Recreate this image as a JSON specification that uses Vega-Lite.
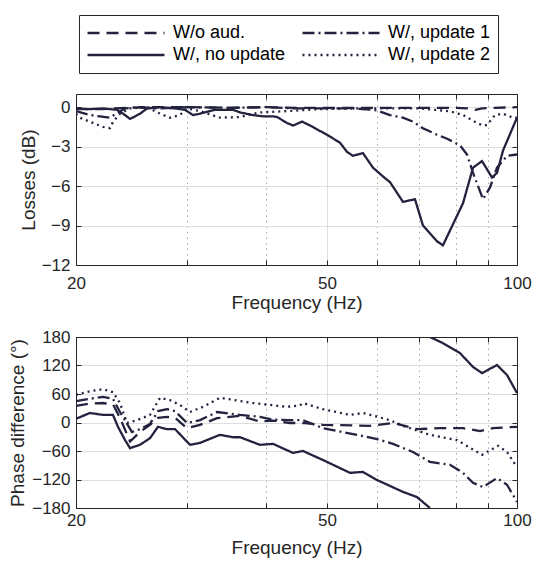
{
  "$schema": "https://vega.github.io/schema/vega-lite/v6.json",
  "padding": {"left": 8, "top": 14, "right": 4, "bottom": 4},
  "background": "white",
  "config": {
    "view": {"stroke": null},
    "axis": {
      "domainColor": "#262626", "tickColor": "#262626", "domainWidth": 1, "tickWidth": 1,
      "labelFont": "Liberation Sans", "titleFont": "Liberation Sans",
      "labelFontSize": 17, "titleFontSize": 19, "titleFontWeight": "normal",
      "labelColor": "#262626", "titleColor": "#262626", "labelFlush": false
    },
    "line": {"strokeWidth": 2.3, "color": "#23233f", "clip": true}
  },
  "datasets": {
    "d": [
      {"p":"loss","s":"W/o aud.","g":1,"f":20,"v":-0.1},{"p":"loss","s":"W/o aud.","g":1,"f":21,"v":-0.15},{"p":"loss","s":"W/o aud.","g":1,"f":22,"v":-0.15},{"p":"loss","s":"W/o aud.","g":1,"f":23,"v":-0.1},{"p":"loss","s":"W/o aud.","g":1,"f":24,"v":-0.05},{"p":"loss","s":"W/o aud.","g":1,"f":26,"v":0},{"p":"loss","s":"W/o aud.","g":1,"f":30,"v":0},{"p":"loss","s":"W/o aud.","g":1,"f":35,"v":-0.05},{"p":"loss","s":"W/o aud.","g":1,"f":40,"v":0},{"p":"loss","s":"W/o aud.","g":1,"f":45,"v":-0.05},{"p":"loss","s":"W/o aud.","g":1,"f":50,"v":-0.05},{"p":"loss","s":"W/o aud.","g":1,"f":60,"v":-0.05},{"p":"loss","s":"W/o aud.","g":1,"f":70,"v":-0.05},{"p":"loss","s":"W/o aud.","g":1,"f":80,"v":-0.05},{"p":"loss","s":"W/o aud.","g":1,"f":84,"v":-0.1},{"p":"loss","s":"W/o aud.","g":1,"f":86,"v":-0.2},{"p":"loss","s":"W/o aud.","g":1,"f":88,"v":-0.1},{"p":"loss","s":"W/o aud.","g":1,"f":92,"v":-0.05},{"p":"loss","s":"W/o aud.","g":1,"f":100,"v":0},

      {"p":"loss","s":"W/, no update","g":1,"f":20,"v":-0.15},{"p":"loss","s":"W/, no update","g":1,"f":21.05,"v":-0.15},{"p":"loss","s":"W/, no update","g":1,"f":22.07,"v":-0.1},{"p":"loss","s":"W/, no update","g":1,"f":23.23,"v":-0.2},{"p":"loss","s":"W/, no update","g":1,"f":23.92,"v":-0.6},{"p":"loss","s":"W/, no update","g":1,"f":24.36,"v":-0.9},{"p":"loss","s":"W/, no update","g":1,"f":25.26,"v":-0.5},{"p":"loss","s":"W/, no update","g":1,"f":25.92,"v":-0.1},{"p":"loss","s":"W/, no update","g":1,"f":27.2,"v":0},{"p":"loss","s":"W/, no update","g":1,"f":28.7,"v":-0.1},{"p":"loss","s":"W/, no update","g":1,"f":29.77,"v":-0.2},{"p":"loss","s":"W/, no update","g":1,"f":30.65,"v":-0.6},{"p":"loss","s":"W/, no update","g":1,"f":31.45,"v":-0.5},{"p":"loss","s":"W/, no update","g":1,"f":33.2,"v":-0.2},{"p":"loss","s":"W/, no update","g":1,"f":35.47,"v":-0.2},{"p":"loss","s":"W/, no update","g":1,"f":36.39,"v":-0.4},{"p":"loss","s":"W/, no update","g":1,"f":38.15,"v":-0.6},{"p":"loss","s":"W/, no update","g":1,"f":39.57,"v":-0.7},{"p":"loss","s":"W/, no update","g":1,"f":41.05,"v":-0.7},{"p":"loss","s":"W/, no update","g":1,"f":41.65,"v":-0.75},{"p":"loss","s":"W/, no update","g":1,"f":43.2,"v":-1.2},{"p":"loss","s":"W/, no update","g":1,"f":44.15,"v":-1.4},{"p":"loss","s":"W/, no update","g":1,"f":45.63,"v":-1.1},{"p":"loss","s":"W/, no update","g":1,"f":47,"v":-1.4},{"p":"loss","s":"W/, no update","g":1,"f":49.98,"v":-2.1},{"p":"loss","s":"W/, no update","g":1,"f":52.41,"v":-2.7},{"p":"loss","s":"W/, no update","g":1,"f":53.77,"v":-3.4},{"p":"loss","s":"W/, no update","g":1,"f":54.96,"v":-3.7},{"p":"loss","s":"W/, no update","g":1,"f":57,"v":-3.5},{"p":"loss","s":"W/, no update","g":1,"f":59.12,"v":-4.6},{"p":"loss","s":"W/, no update","g":1,"f":61.77,"v":-5.4},{"p":"loss","s":"W/, no update","g":1,"f":62.91,"v":-5.7},{"p":"loss","s":"W/, no update","g":1,"f":65.95,"v":-7.2},{"p":"loss","s":"W/, no update","g":1,"f":68.91,"v":-7.0},{"p":"loss","s":"W/, no update","g":1,"f":70.95,"v":-9.0},{"p":"loss","s":"W/, no update","g":1,"f":72.79,"v":-9.6},{"p":"loss","s":"W/, no update","g":1,"f":74.68,"v":-10.2},{"p":"loss","s":"W/, no update","g":1,"f":76.33,"v":-10.5},{"p":"loss","s":"W/, no update","g":1,"f":79.17,"v":-8.9},{"p":"loss","s":"W/, no update","g":1,"f":82.12,"v":-7.3},{"p":"loss","s":"W/, no update","g":1,"f":85.17,"v":-4.6},{"p":"loss","s":"W/, no update","g":1,"f":88.02,"v":-4.1},{"p":"loss","s":"W/, no update","g":1,"f":91.28,"v":-5.35},{"p":"loss","s":"W/, no update","g":1,"f":92.96,"v":-5.0},{"p":"loss","s":"W/, no update","g":1,"f":95.02,"v":-3.3},{"p":"loss","s":"W/, no update","g":1,"f":100,"v":-0.8},

      {"p":"loss","s":"W/, update 1","g":1,"f":20,"v":-0.3},{"p":"loss","s":"W/, update 1","g":1,"f":21.05,"v":-0.6},{"p":"loss","s":"W/, update 1","g":1,"f":21.83,"v":-0.7},{"p":"loss","s":"W/, update 1","g":1,"f":22.64,"v":-0.8},{"p":"loss","s":"W/, update 1","g":1,"f":23.31,"v":-0.4},{"p":"loss","s":"W/, update 1","g":1,"f":23.92,"v":-0.1},{"p":"loss","s":"W/, update 1","g":1,"f":25,"v":0},{"p":"loss","s":"W/, update 1","g":1,"f":27,"v":-0.1},{"p":"loss","s":"W/, update 1","g":1,"f":30,"v":0},{"p":"loss","s":"W/, update 1","g":1,"f":35,"v":-0.05},{"p":"loss","s":"W/, update 1","g":1,"f":40,"v":0},{"p":"loss","s":"W/, update 1","g":1,"f":45,"v":-0.1},{"p":"loss","s":"W/, update 1","g":1,"f":50,"v":-0.1},{"p":"loss","s":"W/, update 1","g":1,"f":55,"v":-0.1},{"p":"loss","s":"W/, update 1","g":1,"f":59.12,"v":-0.2},{"p":"loss","s":"W/, update 1","g":1,"f":60,"v":-0.25},{"p":"loss","s":"W/, update 1","g":1,"f":62.91,"v":-0.6},{"p":"loss","s":"W/, update 1","g":1,"f":65.95,"v":-0.8},{"p":"loss","s":"W/, update 1","g":1,"f":68.41,"v":-1.1},{"p":"loss","s":"W/, update 1","g":1,"f":70.95,"v":-1.6},{"p":"loss","s":"W/, update 1","g":1,"f":74.68,"v":-2.1},{"p":"loss","s":"W/, update 1","g":1,"f":77.5,"v":-2.4},{"p":"loss","s":"W/, update 1","g":1,"f":81.22,"v":-2.9},{"p":"loss","s":"W/, update 1","g":1,"f":83.33,"v":-3.6},{"p":"loss","s":"W/, update 1","g":1,"f":85.17,"v":-5.0},{"p":"loss","s":"W/, update 1","g":1,"f":88.34,"v":-7.0},{"p":"loss","s":"W/, update 1","g":1,"f":90.62,"v":-6.1},{"p":"loss","s":"W/, update 1","g":1,"f":92.96,"v":-4.6},{"p":"loss","s":"W/, update 1","g":1,"f":96.42,"v":-3.7},{"p":"loss","s":"W/, update 1","g":1,"f":100,"v":-3.6},

      {"p":"loss","s":"W/, update 2","g":1,"f":20,"v":-0.5},{"p":"loss","s":"W/, update 2","g":1,"f":20.29,"v":-0.8},{"p":"loss","s":"W/, update 2","g":1,"f":21.28,"v":-1.2},{"p":"loss","s":"W/, update 2","g":1,"f":22.07,"v":-1.5},{"p":"loss","s":"W/, update 2","g":1,"f":22.64,"v":-1.6},{"p":"loss","s":"W/, update 2","g":1,"f":22.9,"v":-1.1},{"p":"loss","s":"W/, update 2","g":1,"f":23.48,"v":-0.5},{"p":"loss","s":"W/, update 2","g":1,"f":24.36,"v":-0.1},{"p":"loss","s":"W/, update 2","g":1,"f":25.9,"v":0},{"p":"loss","s":"W/, update 2","g":1,"f":27.2,"v":-0.5},{"p":"loss","s":"W/, update 2","g":1,"f":28.19,"v":-0.8},{"p":"loss","s":"W/, update 2","g":1,"f":29.23,"v":-0.6},{"p":"loss","s":"W/, update 2","g":1,"f":29.99,"v":-0.1},{"p":"loss","s":"W/, update 2","g":1,"f":31.45,"v":-0.3},{"p":"loss","s":"W/, update 2","g":1,"f":33.83,"v":-0.8},{"p":"loss","s":"W/, update 2","g":1,"f":36.39,"v":-0.75},{"p":"loss","s":"W/, update 2","g":1,"f":39.14,"v":-0.4},{"p":"loss","s":"W/, update 2","g":1,"f":43.2,"v":-0.3},{"p":"loss","s":"W/, update 2","g":1,"f":48.72,"v":-0.15},{"p":"loss","s":"W/, update 2","g":1,"f":54.96,"v":-0.1},{"p":"loss","s":"W/, update 2","g":1,"f":60,"v":-0.1},{"p":"loss","s":"W/, update 2","g":1,"f":70,"v":-0.1},{"p":"loss","s":"W/, update 2","g":1,"f":78,"v":-0.3},{"p":"loss","s":"W/, update 2","g":1,"f":82.12,"v":-0.6},{"p":"loss","s":"W/, update 2","g":1,"f":86.43,"v":-1.2},{"p":"loss","s":"W/, update 2","g":1,"f":88.34,"v":-1.4},{"p":"loss","s":"W/, update 2","g":1,"f":89.63,"v":-1.35},{"p":"loss","s":"W/, update 2","g":1,"f":92.29,"v":-0.6},{"p":"loss","s":"W/, update 2","g":1,"f":95.02,"v":-0.5},{"p":"loss","s":"W/, update 2","g":1,"f":98.56,"v":-0.8},{"p":"loss","s":"W/, update 2","g":1,"f":100,"v":-0.8},

      {"p":"phase","s":"W/o aud.","g":1,"f":20,"v":35},{"p":"phase","s":"W/o aud.","g":1,"f":21.05,"v":40},{"p":"phase","s":"W/o aud.","g":1,"f":22.07,"v":41},{"p":"phase","s":"W/o aud.","g":1,"f":22.89,"v":38},{"p":"phase","s":"W/o aud.","g":1,"f":23.48,"v":10},{"p":"phase","s":"W/o aud.","g":1,"f":24.36,"v":-40},{"p":"phase","s":"W/o aud.","g":1,"f":25.26,"v":-20},{"p":"phase","s":"W/o aud.","g":1,"f":26.2,"v":-5},{"p":"phase","s":"W/o aud.","g":1,"f":26.98,"v":10},{"p":"phase","s":"W/o aud.","g":1,"f":27.88,"v":12},{"p":"phase","s":"W/o aud.","g":1,"f":28.71,"v":10},{"p":"phase","s":"W/o aud.","g":1,"f":29.99,"v":-12},{"p":"phase","s":"W/o aud.","g":1,"f":31.45,"v":-5},{"p":"phase","s":"W/o aud.","g":1,"f":33.46,"v":9},{"p":"phase","s":"W/o aud.","g":1,"f":36.39,"v":14},{"p":"phase","s":"W/o aud.","g":1,"f":39.14,"v":2},{"p":"phase","s":"W/o aud.","g":1,"f":41.05,"v":4},{"p":"phase","s":"W/o aud.","g":1,"f":43.67,"v":-1},{"p":"phase","s":"W/o aud.","g":1,"f":45.79,"v":-1},{"p":"phase","s":"W/o aud.","g":1,"f":49.26,"v":-5},{"p":"phase","s":"W/o aud.","g":1,"f":58.48,"v":-7},{"p":"phase","s":"W/o aud.","g":1,"f":63.6,"v":-1},{"p":"phase","s":"W/o aud.","g":1,"f":69.42,"v":-14},{"p":"phase","s":"W/o aud.","g":1,"f":75.5,"v":-12},{"p":"phase","s":"W/o aud.","g":1,"f":82.12,"v":-12},{"p":"phase","s":"W/o aud.","g":1,"f":87.38,"v":-18},{"p":"phase","s":"W/o aud.","g":1,"f":91.62,"v":-12},{"p":"phase","s":"W/o aud.","g":1,"f":100,"v":-9},

      {"p":"phase","s":"W/, no update","g":1,"f":20,"v":8},{"p":"phase","s":"W/, no update","g":1,"f":21.05,"v":20},{"p":"phase","s":"W/, no update","g":1,"f":22.07,"v":16},{"p":"phase","s":"W/, no update","g":1,"f":22.89,"v":16},{"p":"phase","s":"W/, no update","g":1,"f":23.31,"v":-9},{"p":"phase","s":"W/, no update","g":1,"f":23.92,"v":-37},{"p":"phase","s":"W/, no update","g":1,"f":24.36,"v":-54},{"p":"phase","s":"W/, no update","g":1,"f":25.26,"v":-47},{"p":"phase","s":"W/, no update","g":1,"f":26.2,"v":-33},{"p":"phase","s":"W/, no update","g":1,"f":26.98,"v":-9},{"p":"phase","s":"W/, no update","g":1,"f":27.88,"v":-14},{"p":"phase","s":"W/, no update","g":1,"f":28.71,"v":-14},{"p":"phase","s":"W/, no update","g":1,"f":30.32,"v":-47},{"p":"phase","s":"W/, no update","g":1,"f":31.45,"v":-43},{"p":"phase","s":"W/, no update","g":1,"f":33.83,"v":-26},{"p":"phase","s":"W/, no update","g":1,"f":35.47,"v":-31},{"p":"phase","s":"W/, no update","g":1,"f":36.39,"v":-31},{"p":"phase","s":"W/, no update","g":1,"f":39.14,"v":-47},{"p":"phase","s":"W/, no update","g":1,"f":41.05,"v":-45},{"p":"phase","s":"W/, no update","g":1,"f":44.15,"v":-64},{"p":"phase","s":"W/, no update","g":1,"f":45.79,"v":-60},{"p":"phase","s":"W/, no update","g":1,"f":49.26,"v":-79},{"p":"phase","s":"W/, no update","g":1,"f":54.37,"v":-106},{"p":"phase","s":"W/, no update","g":1,"f":57,"v":-104},{"p":"phase","s":"W/, no update","g":1,"f":60,"v":-121},{"p":"phase","s":"W/, no update","g":1,"f":65.95,"v":-146},{"p":"phase","s":"W/, no update","g":1,"f":69.42,"v":-157},{"p":"phase","s":"W/, no update","g":1,"f":72.79,"v":-180},
      {"p":"phase","s":"W/, no update","g":2,"f":72.79,"v":180},{"p":"phase","s":"W/, no update","g":2,"f":76.33,"v":167},{"p":"phase","s":"W/, no update","g":2,"f":81.22,"v":146},{"p":"phase","s":"W/, no update","g":2,"f":85.17,"v":117},{"p":"phase","s":"W/, no update","g":2,"f":88.02,"v":104},{"p":"phase","s":"W/, no update","g":2,"f":92.96,"v":121},{"p":"phase","s":"W/, no update","g":2,"f":96.42,"v":100},{"p":"phase","s":"W/, no update","g":2,"f":100,"v":62},

      {"p":"phase","s":"W/, update 1","g":1,"f":20,"v":45},{"p":"phase","s":"W/, update 1","g":1,"f":21.05,"v":50},{"p":"phase","s":"W/, update 1","g":1,"f":22.07,"v":54},{"p":"phase","s":"W/, update 1","g":1,"f":22.89,"v":50},{"p":"phase","s":"W/, update 1","g":1,"f":23.48,"v":22},{"p":"phase","s":"W/, update 1","g":1,"f":24.54,"v":-20},{"p":"phase","s":"W/, update 1","g":1,"f":25.26,"v":-14},{"p":"phase","s":"W/, update 1","g":1,"f":26.2,"v":-3},{"p":"phase","s":"W/, update 1","g":1,"f":26.98,"v":24},{"p":"phase","s":"W/, update 1","g":1,"f":27.88,"v":28},{"p":"phase","s":"W/, update 1","g":1,"f":28.71,"v":24},{"p":"phase","s":"W/, update 1","g":1,"f":29.99,"v":-1},{"p":"phase","s":"W/, update 1","g":1,"f":31.45,"v":5},{"p":"phase","s":"W/, update 1","g":1,"f":33.46,"v":22},{"p":"phase","s":"W/, update 1","g":1,"f":36.39,"v":16},{"p":"phase","s":"W/, update 1","g":1,"f":39.14,"v":12},{"p":"phase","s":"W/, update 1","g":1,"f":41.05,"v":6},{"p":"phase","s":"W/, update 1","g":1,"f":43.67,"v":5},{"p":"phase","s":"W/, update 1","g":1,"f":45.79,"v":5},{"p":"phase","s":"W/, update 1","g":1,"f":49.26,"v":-12},{"p":"phase","s":"W/, update 1","g":1,"f":55.77,"v":-26},{"p":"phase","s":"W/, update 1","g":1,"f":60,"v":-35},{"p":"phase","s":"W/, update 1","g":1,"f":63.6,"v":-45},{"p":"phase","s":"W/, update 1","g":1,"f":68.41,"v":-62},{"p":"phase","s":"W/, update 1","g":1,"f":72.79,"v":-83},{"p":"phase","s":"W/, update 1","g":1,"f":78.31,"v":-89},{"p":"phase","s":"W/, update 1","g":1,"f":82.12,"v":-106},{"p":"phase","s":"W/, update 1","g":1,"f":85.17,"v":-127},{"p":"phase","s":"W/, update 1","g":1,"f":88.34,"v":-136},{"p":"phase","s":"W/, update 1","g":1,"f":92.96,"v":-117},{"p":"phase","s":"W/, update 1","g":1,"f":96.42,"v":-131},{"p":"phase","s":"W/, update 1","g":1,"f":100,"v":-167},

      {"p":"phase","s":"W/, update 2","g":1,"f":20,"v":58},{"p":"phase","s":"W/, update 2","g":1,"f":21.05,"v":66},{"p":"phase","s":"W/, update 2","g":1,"f":22.07,"v":70},{"p":"phase","s":"W/, update 2","g":1,"f":22.89,"v":64},{"p":"phase","s":"W/, update 2","g":1,"f":23.48,"v":41},{"p":"phase","s":"W/, update 2","g":1,"f":24.09,"v":-1},{"p":"phase","s":"W/, update 2","g":1,"f":24.99,"v":5},{"p":"phase","s":"W/, update 2","g":1,"f":26.2,"v":16},{"p":"phase","s":"W/, update 2","g":1,"f":27.18,"v":52},{"p":"phase","s":"W/, update 2","g":1,"f":28.19,"v":47},{"p":"phase","s":"W/, update 2","g":1,"f":29.23,"v":37},{"p":"phase","s":"W/, update 2","g":1,"f":30.32,"v":22},{"p":"phase","s":"W/, update 2","g":1,"f":31.79,"v":33},{"p":"phase","s":"W/, update 2","g":1,"f":33.83,"v":52},{"p":"phase","s":"W/, update 2","g":1,"f":38.15,"v":41},{"p":"phase","s":"W/, update 2","g":1,"f":43.2,"v":33},{"p":"phase","s":"W/, update 2","g":1,"f":45.29,"v":36},{"p":"phase","s":"W/, update 2","g":1,"f":45.79,"v":41},{"p":"phase","s":"W/, update 2","g":1,"f":49.26,"v":28},{"p":"phase","s":"W/, update 2","g":1,"f":54.37,"v":16},{"p":"phase","s":"W/, update 2","g":1,"f":57,"v":20},{"p":"phase","s":"W/, update 2","g":1,"f":62.91,"v":5},{"p":"phase","s":"W/, update 2","g":1,"f":65.95,"v":-7},{"p":"phase","s":"W/, update 2","g":1,"f":72.79,"v":-26},{"p":"phase","s":"W/, update 2","g":1,"f":80.33,"v":-37},{"p":"phase","s":"W/, update 2","g":1,"f":88.02,"v":-68},{"p":"phase","s":"W/, update 2","g":1,"f":93.3,"v":-49},{"p":"phase","s":"W/, update 2","g":1,"f":96.42,"v":-62},{"p":"phase","s":"W/, update 2","g":1,"f":100,"v":-94}
    ]
  },
  "resolve": {"scale": {"strokeDash": "shared"}, "legend": {"strokeDash": "shared"}},
  "spacing": 16,
  "vconcat": [
    {
      "width": 441, "height": 171,
      "data": {"name": "d"},
      "transform": [{"filter": "datum.p == 'loss'"}],
      "resolve": {"axis": {"x": "independent", "y": "independent"}},
      "layer": [
        {
          "transform": [{"filter": "datum.s == 'W/o aud.' || datum.s == 'W/, no update'"}],
          "mark": {"type": "line", "clip": true},
          "encoding": {
            "x": {"field": "f", "type": "quantitative", "scale": {"type": "log", "domain": [20, 100], "nice": false},
              "axis": {"orient": "bottom", "values": [20,30,40,50,60,70,80,90,100], "format": "d",
                "labelExpr": "(datum.value == 20 || datum.value == 50 || datum.value == 100) ? datum.label : ''",
                "title": "Frequency (Hz)", "tickSize": -5, "labelPadding": 15, "titlePadding": 2,
                "grid": true,
                "gridDash": {"condition": {"test": "datum.value == 50", "value": []}, "value": [1.5, 4]},
                "gridColor": {"condition": {"test": "datum.value == 50", "value": "#dedede"}, "value": "#a6a6a6"}}},
            "y": {"field": "v", "type": "quantitative", "scale": {"domain": [-12, 1], "nice": false, "zero": false},
              "axis": {"orient": "left", "values": [-12,-9,-6,-3,0], "title": "Losses (dB)", "tickSize": -5,
                "labelPadding": 11, "titlePadding": 3, "grid": true, "gridColor": "#dedede"}},
            "strokeDash": {"field": "s", "type": "nominal",
              "scale": {"domain": ["W/o aud.", "W/, no update", "W/, update 1", "W/, update 2"],
                "range": [[12, 7], [1, 0], [12, 4, 2, 4], [2, 4]]},
              "legend": {"orient": "none", "legendX": 3, "legendY": -79, "columns": 2, "title": null,
                "symbolType": "stroke", "symbolSize": 5929, "clipHeight": 22, "symbolStrokeWidth": 2,
                "symbolStrokeColor": "#23233f", "labelFontSize": 18, "labelFont": "Liberation Sans",
                "labelColor": "#000000", "labelOffset": 7, "columnPadding": 15, "rowPadding": 0,
                "padding": 7, "strokeColor": "#262626", "fillColor": "white"}},
            "detail": {"field": "g", "type": "nominal"}
          }
        },
        {
          "transform": [{"filter": "datum.s == 'W/, update 1' || datum.s == 'W/, update 2'"}],
          "mark": {"type": "line", "clip": true},
          "encoding": {
            "x": {"field": "f", "type": "quantitative", "scale": {"type": "log", "domain": [20, 100], "nice": false},
              "axis": {"orient": "top", "values": [20,30,40,50,60,70,80,90,100], "labels": false, "title": null,
                "grid": false, "tickSize": -5}},
            "y": {"field": "v", "type": "quantitative", "scale": {"domain": [-12, 1], "nice": false, "zero": false},
              "axis": {"orient": "right", "values": [-12,-9,-6,-3,0], "labels": false, "title": null,
                "grid": false, "tickSize": -5}},
            "strokeDash": {"field": "s", "type": "nominal",
              "scale": {"domain": ["W/o aud.", "W/, no update", "W/, update 1", "W/, update 2"],
                "range": [[12, 7], [1, 0], [12, 4, 2, 4], [2, 4]]}},
            "detail": {"field": "g", "type": "nominal"}
          }
        }
      ]
    },
    {
      "width": 441, "height": 171,
      "data": {"name": "d"},
      "transform": [{"filter": "datum.p == 'phase'"}],
      "resolve": {"axis": {"x": "independent", "y": "independent"}},
      "layer": [
        {
          "transform": [{"filter": "datum.s == 'W/o aud.' || datum.s == 'W/, no update'"}],
          "mark": {"type": "line", "clip": true},
          "encoding": {
            "x": {"field": "f", "type": "quantitative", "scale": {"type": "log", "domain": [20, 100], "nice": false},
              "axis": {"orient": "bottom", "values": [20,30,40,50,60,70,80,90,100], "format": "d",
                "labelExpr": "(datum.value == 20 || datum.value == 50 || datum.value == 100) ? datum.label : ''",
                "title": "Frequency (Hz)", "tickSize": -5, "labelPadding": 9, "titlePadding": 10,
                "grid": true,
                "gridDash": {"condition": {"test": "datum.value == 50", "value": []}, "value": [1.5, 4]},
                "gridColor": {"condition": {"test": "datum.value == 50", "value": "#dedede"}, "value": "#a6a6a6"}}},
            "y": {"field": "v", "type": "quantitative", "scale": {"domain": [-180, 180], "nice": false, "zero": false},
              "axis": {"orient": "left", "values": [-180,-120,-60,0,60,120,180], "title": "Phase difference (°)",
                "tickSize": -5, "labelPadding": 11, "titlePadding": 4, "grid": true, "gridColor": "#dedede"}},
            "strokeDash": {"field": "s", "type": "nominal",
              "scale": {"domain": ["W/o aud.", "W/, no update", "W/, update 1", "W/, update 2"],
                "range": [[12, 7], [1, 0], [12, 4, 2, 4], [2, 4]]}},
            "detail": {"field": "g", "type": "nominal"}
          }
        },
        {
          "transform": [{"filter": "datum.s == 'W/, update 1' || datum.s == 'W/, update 2'"}],
          "mark": {"type": "line", "clip": true},
          "encoding": {
            "x": {"field": "f", "type": "quantitative", "scale": {"type": "log", "domain": [20, 100], "nice": false},
              "axis": {"orient": "top", "values": [20,30,40,50,60,70,80,90,100], "labels": false, "title": null,
                "grid": false, "tickSize": -5}},
            "y": {"field": "v", "type": "quantitative", "scale": {"domain": [-180, 180], "nice": false, "zero": false},
              "axis": {"orient": "right", "values": [-180,-120,-60,0,60,120,180], "labels": false, "title": null,
                "grid": false, "tickSize": -5}},
            "strokeDash": {"field": "s", "type": "nominal",
              "scale": {"domain": ["W/o aud.", "W/, no update", "W/, update 1", "W/, update 2"],
                "range": [[12, 7], [1, 0], [12, 4, 2, 4], [2, 4]]}},
            "detail": {"field": "g", "type": "nominal"}
          }
        }
      ]
    }
  ]
}
